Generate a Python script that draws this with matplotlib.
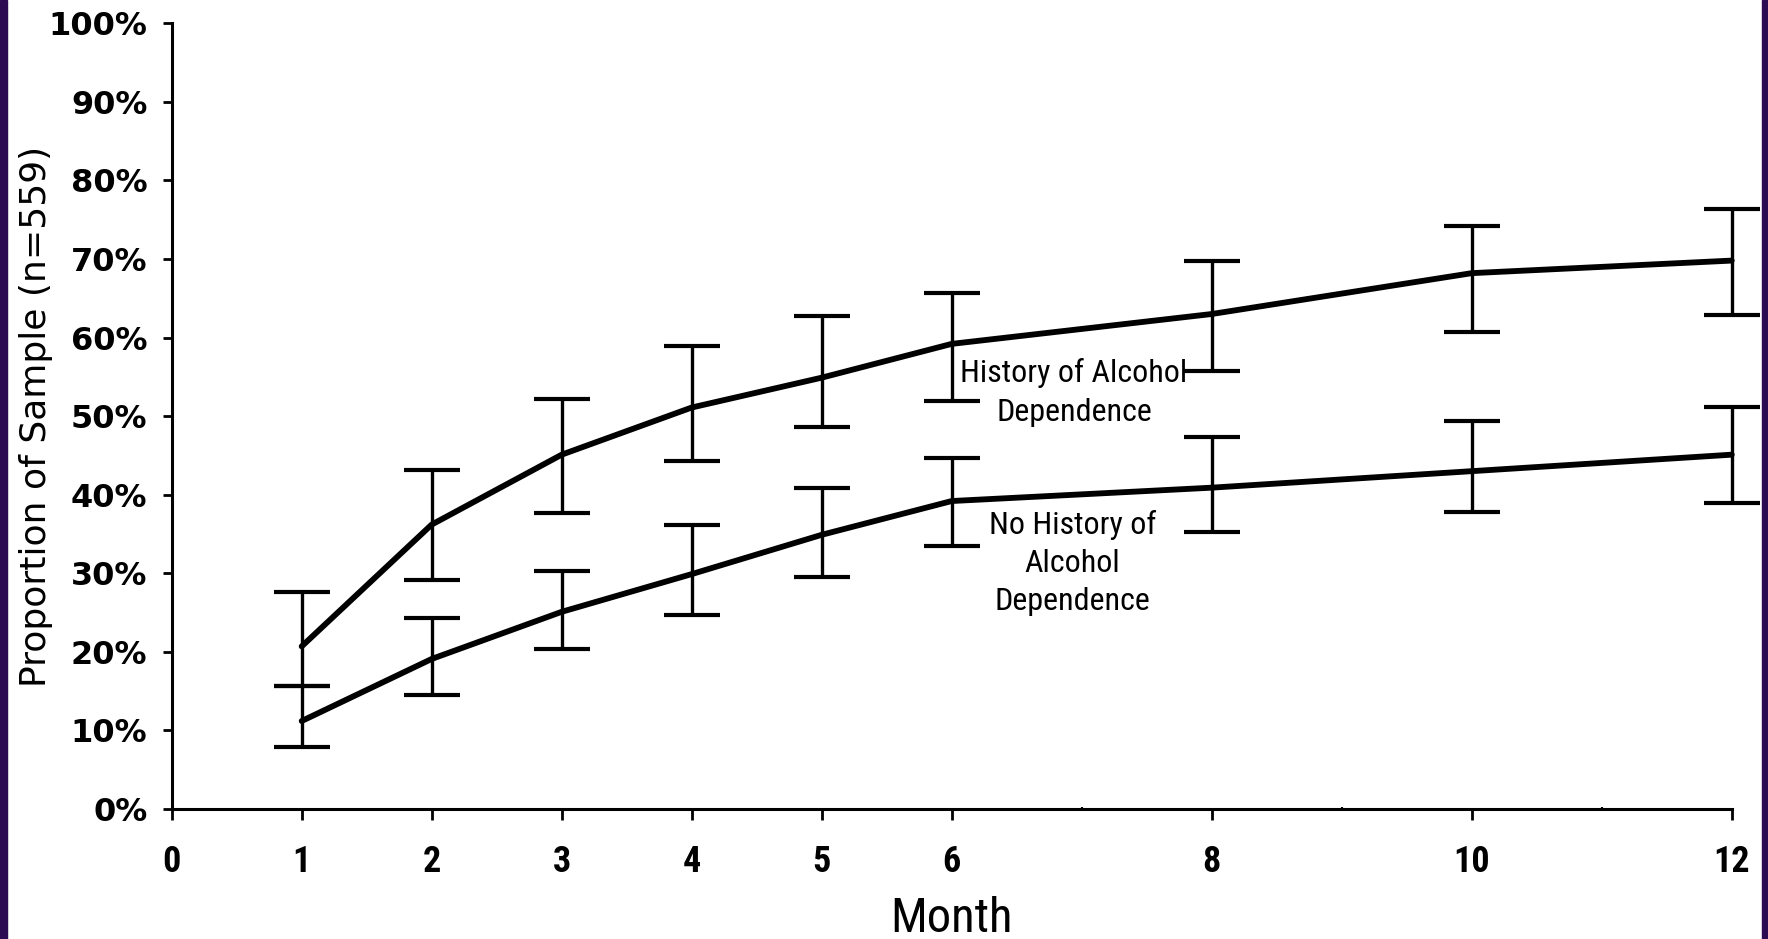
import numpy as np
import matplotlib.pyplot as plt
from matplotlib.patches import Rectangle
from matplotlib.ticker import FuncFormatter

# months of follow-up
months = [1, 2, 3, 4, 5, 6, 8, 10, 12]

# history of alcohol dependence: proportion, lower and upper CI
hist_val = [0.207, 0.362, 0.451, 0.511, 0.549, 0.592, 0.630, 0.682, 0.698]
hist_lo = [0.157, 0.292, 0.377, 0.443, 0.486, 0.519, 0.557, 0.607, 0.629]
hist_hi = [0.276, 0.432, 0.522, 0.589, 0.628, 0.657, 0.698, 0.742, 0.764]

# no history of alcohol dependence
nohist_val = [0.112, 0.191, 0.251, 0.299, 0.349, 0.392, 0.409, 0.430, 0.451]
nohist_lo = [0.079, 0.145, 0.204, 0.247, 0.295, 0.335, 0.353, 0.378, 0.390]
nohist_hi = [0.157, 0.243, 0.303, 0.361, 0.408, 0.447, 0.474, 0.494, 0.512]

x_ticks = [0, 1, 2, 3, 4, 5, 6, 8, 10, 12]

cond = ['Roboto Condensed', 'DejaVu Sans']

fig = plt.figure(figsize=(17.68, 9.39), dpi=100)
ax = fig.add_axes([0.0971, 0.1384, 0.8824, 0.8368])


def draw(vals, lo, hi):
    vals = np.array(vals)
    err = np.vstack([vals - np.array(lo), np.array(hi) - vals])
    ax.errorbar(months, vals, yerr=err, fmt='none', ecolor='black',
                elinewidth=2.4, capsize=20, capthick=3, clip_on=False, zorder=2)
    ax.plot(months, vals, color='black', lw=4.2, solid_capstyle='round',
            solid_joinstyle='round', clip_on=False, zorder=3)


draw(hist_val, hist_lo, hist_hi)
draw(nohist_val, nohist_lo, nohist_hi)

ax.text(6.94, 0.53, 'History of Alcohol\nDependence', ha='center', va='center',
        fontsize=23, family=cond, linespacing=1.4)
ax.text(6.93, 0.313, 'No History of\nAlcohol\nDependence', ha='center', va='center',
        fontsize=23, family=cond, linespacing=1.4)

ax.set_xlim(0, 12)
ax.set_ylim(0, 1)
ax.set_xticks(x_ticks)
ax.set_xticks([7, 9, 11], minor=True)
ax.set_yticks(np.arange(0, 1.01, 0.1))
ax.yaxis.set_major_formatter(FuncFormatter(lambda v, p: f'{v * 100:.0f}%'))

for s in ['top', 'right']:
    ax.spines[s].set_visible(False)
for s in ['left', 'bottom']:
    ax.spines[s].set_linewidth(2.2)

ax.tick_params(axis='x', which='major', length=8, width=2, pad=17)
ax.tick_params(axis='x', which='minor', length=3, width=1.5, direction='inout')
ax.tick_params(axis='y', length=6.5, width=2, pad=11)
for lab in ax.get_xticklabels():
    lab.set_fontfamily(cond)
    lab.set_fontweight('bold')
    lab.set_fontsize(26)
for lab in ax.get_yticklabels():
    lab.set_fontfamily('DejaVu Sans')
    lab.set_fontweight('bold')
    lab.set_fontsize(23)

ax.set_xlabel('Month', fontsize=35, family=cond, labelpad=12)
ax.set_ylabel('Proportion of Sample (n=559)', fontsize=26, family='DejaVu Sans')
ax.yaxis.set_label_coords(-0.076, 0.5)

# purple frame strips at the edges
fig.patches.append(Rectangle((0, 0), 7 / 1768, 1, transform=fig.transFigure,
                             color='#2d0b52', zorder=0))
fig.patches.append(Rectangle((1762 / 1768, 0), 6 / 1768, 1, transform=fig.transFigure,
                             color='#2d0b52', zorder=0))

fig.savefig('out.png', dpi=100)
